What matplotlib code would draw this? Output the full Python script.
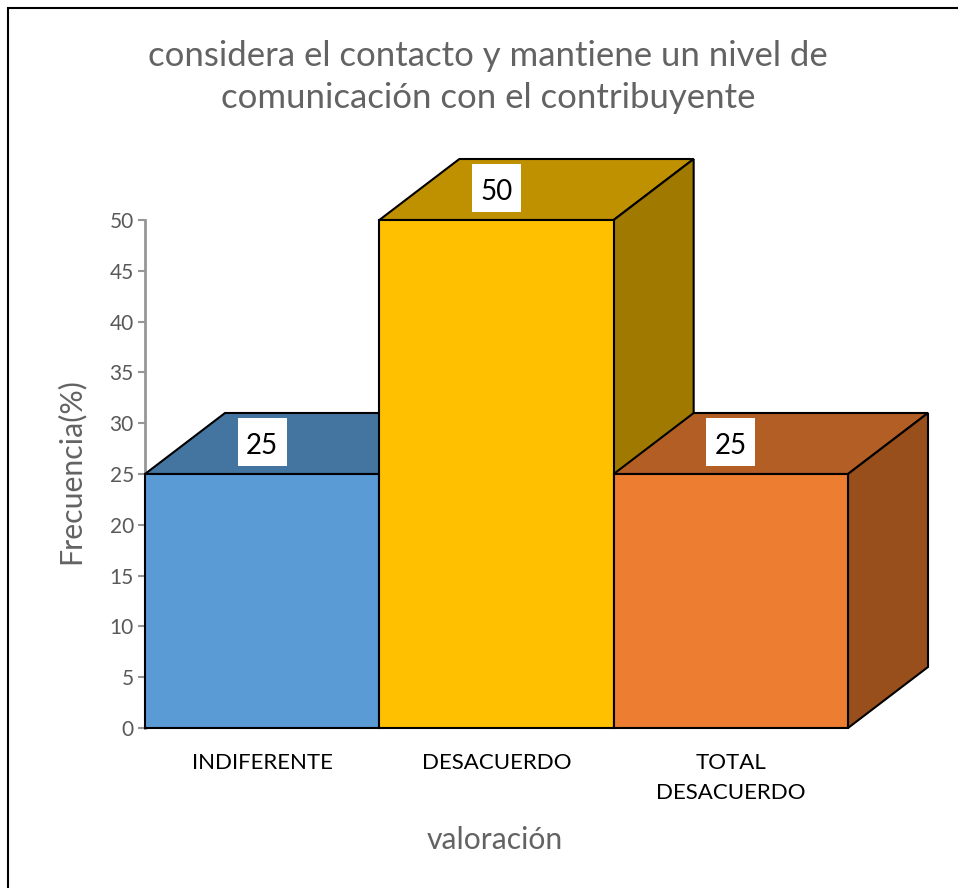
import matplotlib.pyplot as plt
from matplotlib.patches import Polygon, Rectangle

plt.rcParams['font.family'] = ['Lato', 'DejaVu Sans']

categories = ['INDIFERENTE', 'DESACUERDO', 'TOTAL\nDESACUERDO']
values = [25, 50, 25]
front_colors = ['#5B9BD5', '#FFC000', '#ED7D31']
top_colors = ['#4475A0', '#BF9000', '#B25E25']
side_colors = ['#375E80', '#A07A00', '#984F1C']
yticks = list(range(0, 55, 5))

W, H = 958, 888
fig = plt.figure(figsize=(W / 100, H / 100), dpi=100)

# plot area in pixels
left, right, top, bottom = 145, 848, 220, 728
ax = fig.add_axes([left / W, 1 - bottom / H, (right - left) / W, (bottom - top) / H])
ax.set_xlim(0, 3)
ax.set_ylim(0, 50)

# depth of the 3d bars in data units
dx = 80 / ((right - left) / 3)
dy = 61 / ((bottom - top) / 50)

# size of the white label boxes
bw = 49 / ((right - left) / 3)
bh = 48 / ((bottom - top) / 50)

for i, v in enumerate(values):
    z = 2 + i
    ax.add_patch(Polygon([(i, v), (i + dx, v + dy), (i + 1 + dx, v + dy), (i + 1, v)],
                         fc=top_colors[i], ec='black', lw=1.5, clip_on=False, zorder=z))
    ax.add_patch(Polygon([(i + 1, 0), (i + 1 + dx, dy), (i + 1 + dx, v + dy), (i + 1, v)],
                         fc=side_colors[i], ec='black', lw=1.5, clip_on=False, zorder=z))
    ax.add_patch(Rectangle((i, 0), 1, v, fc=front_colors[i], ec='black', lw=1.5,
                           clip_on=False, zorder=z))
    ax.add_patch(Rectangle((i + 0.5 - bw / 2, v + 3.15 - bh / 2), bw, bh, fc='white', ec='none',
                           clip_on=False, zorder=6))
    ax.text(i + 0.5, v + 2.75, str(v), ha='center', va='center', fontsize=20,
            color='black', zorder=7)

for s in ['top', 'right', 'bottom']:
    ax.spines[s].set_visible(False)
ax.spines['left'].set_color('#969696')
ax.spines['left'].set_linewidth(2)
ax.spines['left'].set_zorder(1)

ax.set_yticks(yticks)
ax.tick_params(axis='y', colors='#969696', labelcolor='#595959', labelsize=15, length=5, width=1.5, pad=3)
ax.set_xticks([0.5, 1.5, 2.5])
ax.set_xticklabels(categories, fontsize=16, color='black', linespacing=1.65)
ax.tick_params(axis='x', length=0, pad=18)
for lab in ax.get_xticklabels():
    lab.set_verticalalignment('top')
    lab.set_x(lab.get_position()[0])

fig.text(488 / W, 1 - 77 / H, 'considera el contacto y mantiene un nivel de\ncomunicación con el contribuyente',
         ha='center', va='center', fontsize=25, color='#636363', linespacing=1.42)
fig.text(70 / W, 1 - 471 / H, 'Frecuencia(%)', rotation=90, ha='center', va='center',
         fontsize=21.8, color='#636363')
fig.text(495 / W, 1 - 840 / H, 'valoración', ha='center', va='center', fontsize=21.6, color='#636363')

# chart border
fig.add_artist(Rectangle((8 / W, -0.01), 1.1, 1 - 8 / H + 0.01, transform=fig.transFigure,
                         fc='none', ec='black', lw=1.5))

fig.savefig('out.png', dpi=100)
